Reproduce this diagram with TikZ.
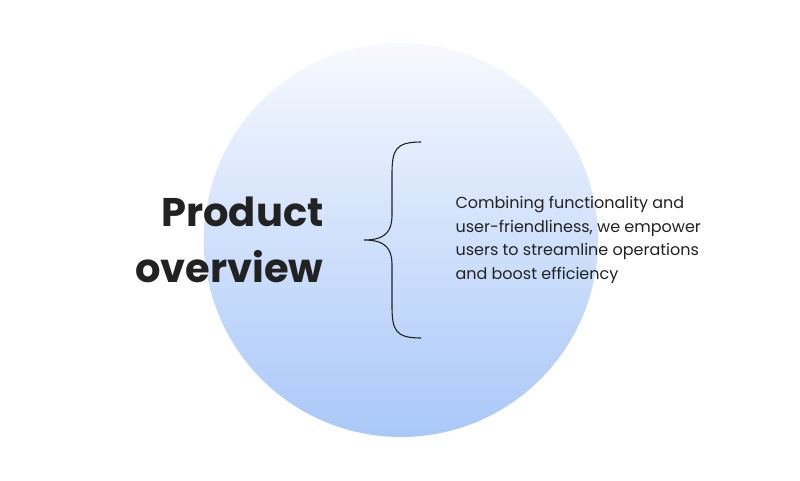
\documentclass[tikz,border=0pt]{standalone}
\usepackage{fontspec}
\setmainfont{Poppins}
\definecolor{circtop}{HTML}{F7F9FE}
\definecolor{circbot}{HTML}{A9C8F9}
\definecolor{ink}{HTML}{222222}
\begin{document}
\begin{tikzpicture}[x=1pt,y=-1pt,
    title/.style={font=\bfseries\fontsize{40}{56}\selectfont, text=ink, align=right, anchor=east},
    body/.style={font=\fontsize{16}{23.5}\selectfont, text=ink, align=left, anchor=west},
    brace/.style={draw=ink, line width=1.1pt}
]
\useasboundingbox (0,0) rectangle (800,480);

% Circle
\shade[top color=circtop, bottom color=circbot] (401,240) circle (197);

% Texts
\node (title) [title] at (327,240) {Product\\overview};
\node (desc) [body] at (452,240) {Combining functionality and\\user-friendliness, we empower\\users to streamline operations\\and boost efficiency};

% Brace
\draw [brace] (421,142) .. controls (395,142) and (392,150) .. (392,175)
    -- (392,215) .. controls (392,232) and (385,240) .. (364,240)
    .. controls (385,240) and (392,248) .. (392,265)
    -- (392,305) .. controls (392,330) and (395,338) .. (421,338);
\end{tikzpicture}
\end{document}
